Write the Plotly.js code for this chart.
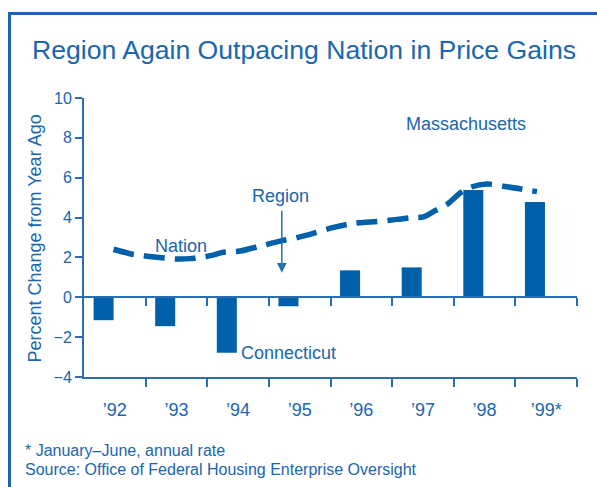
<!DOCTYPE html>
<html><head><meta charset="utf-8">
<script src="https://cdn.plot.ly/plotly-3.0.1.min.js"></script>
<style>html,body{margin:0;padding:0;background:#fff}#chart{width:597px;height:487px}</style>
</head><body><div id="chart"></div>
<script>
// Data
const years = [1992, 1993, 1994, 1995, 1996, 1997, 1998, 1999];
const yearLabels = ["\u201992", "\u201993", "\u201994", "\u201995", "\u201996", "\u201997", "\u201998", "\u201999*"];
const connecticut = [-1.15, -1.45, -2.78, -0.45, 1.35, 1.5, 5.38, 4.78];
const nationX = [1991.98, 1992.3, 1992.68, 1993.0, 1993.22, 1993.55, 1993.76, 1994.03, 1994.36, 1994.68, 1994.95, 1995.22, 1995.55, 1995.87, 1996.2, 1996.58, 1996.79, 1997.01, 1997.17, 1997.39, 1997.6, 1997.77, 1998.04, 1998.36, 1998.85];
const nationY = [2.41, 2.15, 2.01, 1.92, 1.94, 2.09, 2.26, 2.32, 2.57, 2.82, 2.99, 3.21, 3.51, 3.71, 3.79, 3.91, 3.99, 4.04, 4.3, 4.66, 5.22, 5.52, 5.68, 5.55, 5.3];
const boundaries = [1992.5, 1993.5, 1994.5, 1995.5, 1996.5, 1997.5, 1998.5, 1999.5];
const yTicks = [-4, -2, 0, 2, 4, 6, 8, 10];

const BLUE = "#0060A9";
const TXT = "#1A66B0";
const AX = "#2B6CB3";
const FONT = "Liberation Sans, Arial, Helvetica, sans-serif";

const traces = [
  {type: "bar", x: years, y: connecticut, width: 0.325, offset: -0.345,
   marker: {color: BLUE, line: {width: 0}}, xaxis: "x", yaxis: "y", hoverinfo: "skip"},
  {type: "scatter", mode: "lines", x: nationX, y: nationY, xaxis: "x2", yaxis: "y",
   line: {color: BLUE, width: 5.5, dash: "21px,10px", shape: "spline", smoothing: 0.8}, hoverinfo: "skip"}
];

const xRange = [1991.5, 1999.5];
const layout = {
  width: 597, height: 487,
  margin: {l: 84, r: 20, t: 98, b: 110},
  paper_bgcolor: "#fff", plot_bgcolor: "#fff",
  showlegend: false,
  font: {family: FONT, color: TXT, size: 16},
  xaxis: {range: xRange, showgrid: false, zeroline: false, showline: true, linecolor: AX, linewidth: 2,
    tickvals: years, ticktext: yearLabels, ticks: "", ticklabelstandoff: 15,
    tickfont: {size: 18, color: TXT},
    minor: {tickvals: boundaries, ticks: "outside", ticklen: 8, tickwidth: 2, tickcolor: AX}},
  xaxis2: {range: xRange, overlaying: "x", anchor: "free", position: 4/14, showgrid: false, zeroline: false,
    showline: true, linecolor: AX, linewidth: 2, showticklabels: false, ticks: "",
    tickvals: years,
    minor: {tickvals: boundaries, ticks: "outside", ticklen: 8, tickwidth: 2, tickcolor: AX}},
  yaxis: {range: [-4, 10], tickvals: yTicks, showgrid: false, zeroline: false, showline: true,
    linecolor: AX, linewidth: 2, ticks: "outside", ticklen: 7, tickwidth: 2, tickcolor: AX,
    tickfont: {size: 16, color: TXT}},
  shapes: [
    {type: "line", xref: "paper", yref: "paper", x0: (9.5-84)/493, x1: (9.5-84)/493, y0: (377-12)/279, y1: (377-490)/279, line: {color: "#1E64AD", width: 3}},
    {type: "line", xref: "paper", yref: "paper", x0: (8-84)/493, x1: (600-84)/493, y0: (377-13.5)/279, y1: (377-13.5)/279, line: {color: "#1E64AD", width: 3}}
  ],
  annotations: [
    {xref: "paper", yref: "paper", x: (30-84)/493, y: (377-50)/279, xanchor: "left", yanchor: "middle", showarrow: false,
     text: "Region Again Outpacing Nation in Price Gains", font: {size: 26.6, color: TXT}},
    {xref: "paper", yref: "paper", x: (35.5-84)/493, y: 0.4946, textangle: -90, xanchor: "center", yanchor: "middle", showarrow: false,
     text: "Percent Change from Year Ago", font: {size: 18, color: TXT}},
    {xref: "paper", yref: "paper", x: (403.5-84)/493, y: (377-123.5)/279, xanchor: "left", yanchor: "middle", showarrow: false,
     text: "Massachusetts", font: {size: 18, color: TXT}},
    {xref: "paper", yref: "paper", x: (249.5-84)/493, y: (377-195.7)/279, xanchor: "left", yanchor: "middle", showarrow: false,
     text: "Region", font: {size: 18, color: TXT}},
    {xref: "paper", yref: "paper", x: (153-84)/493, y: (377-246.3)/279, xanchor: "left", yanchor: "middle", showarrow: false,
     text: "Nation", font: {size: 18, color: TXT}},
    {xref: "paper", yref: "paper", x: (238.5-84)/493, y: (377-353)/279, xanchor: "left", yanchor: "middle", showarrow: false,
     text: "Connecticut", font: {size: 18, color: TXT}},
    {xref: "x", yref: "y", x: 1994.71, y: 1.23, axref: "x", ayref: "y", ax: 1994.71, ay: 4.42, text: "",
     showarrow: true, arrowhead: 2, arrowsize: 1.3, arrowwidth: 1.5, arrowcolor: AX, standoff: 0, startstandoff: 0},
    {xref: "paper", yref: "paper", x: (23-84)/493, y: (377-450)/279, xanchor: "left", yanchor: "middle", showarrow: false,
     text: "* January\u2013June, annual rate", font: {size: 16, color: TXT}},
    {xref: "paper", yref: "paper", x: (23-84)/493, y: (377-469)/279, xanchor: "left", yanchor: "middle", showarrow: false,
     text: "Source: Office of Federal Housing Enterprise Oversight", font: {size: 16, color: TXT}}
  ]
};

Plotly.newPlot("chart", traces, layout, {staticPlot: true, displayModeBar: false});
</script></body></html>
